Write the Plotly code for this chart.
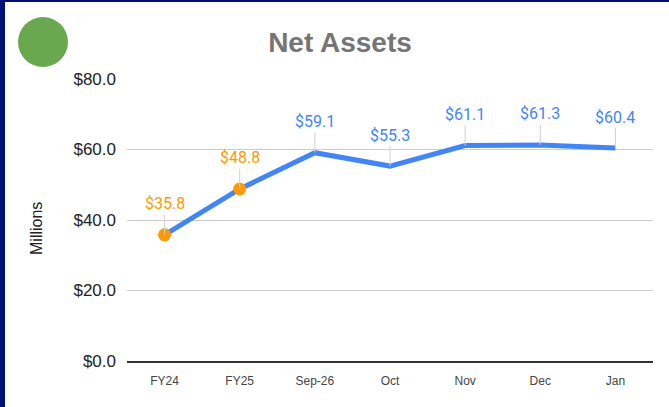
import plotly.graph_objects as go

categories = ["FY24", "FY25", "Sep-26", "Oct", "Nov", "Dec", "Jan"]
values = [35.8, 48.8, 59.1, 55.3, 61.1, 61.3, 60.4]
highlight = [True, True, False, False, False, False, False]
y_ticks = [0, 20, 40, 60, 80]
y_tick_labels = ["$0.0", "$20.0", "$40.0", "$60.0", "$80.0"]

BLUE = "#4285F4"
ORANGE = "#FF9900"
W, H = 669, 407
L, R, T, B = 127, 16, 79, 46
PW, PH = W - L - R, H - T - B

def px_x(p):
    return (p - L) / PW

def px_y(p):
    return (H - B - p) / PH

fig = go.Figure()
fig.add_trace(go.Scatter(
    x=categories, y=values, mode="lines",
    line=dict(color=BLUE, width=5), hoverinfo="skip", showlegend=False,
))
hx = [c for c, h in zip(categories, highlight) if h]
hy = [v for v, h in zip(values, highlight) if h]
fig.add_trace(go.Scatter(
    x=hx, y=hy, mode="markers",
    marker=dict(color=ORANGE, size=13), hoverinfo="skip", showlegend=False,
))

for c, v, h in zip(categories, values, highlight):
    fig.add_annotation(
        x=c, y=v, text=f"${v:.1f}", showarrow=True, arrowhead=0,
        arrowwidth=1, arrowcolor="#d0d0d0", ax=0, ay=-31,
        font=dict(family="Roboto", size=16, color=ORANGE if h else BLUE),
    )

fig.add_annotation(
    x=px_x(36), y=px_y(229), xref="paper", yref="paper", text="Millions",
    xanchor="center", yanchor="middle",
    textangle=-90, showarrow=False,
    font=dict(family="Arial, Liberation Sans", size=16, color="#222222"),
)

# decorative circle and frame
fig.add_shape(type="circle", xref="paper", yref="paper",
              x0=px_x(18), x1=px_x(68), y0=px_y(67), y1=px_y(17),
              fillcolor="#6AA84F", line=dict(width=0))
fig.add_shape(type="rect", xref="paper", yref="paper",
              x0=px_x(-5), x1=px_x(5), y0=px_y(H + 5), y1=px_y(-5),
              fillcolor="#001177", line=dict(width=0))
fig.add_shape(type="rect", xref="paper", yref="paper",
              x0=px_x(-5), x1=px_x(W + 5), y0=px_y(2), y1=px_y(-5),
              fillcolor="#001177", line=dict(width=0))

fig.update_layout(
    width=W, height=H,
    margin=dict(l=L, r=R, t=T, b=B),
    paper_bgcolor="white", plot_bgcolor="white",
    title=dict(text="<b>Net Assets</b>", x=340 / W, xref="container", xanchor="center",
               y=1 - 42 / H, yref="container", yanchor="middle",
               font=dict(family="Arial, Liberation Sans", size=28, color="#757575")),
    xaxis=dict(
        type="category", range=[-0.5, 6.5], showgrid=False,
        showline=True, linecolor="#333333", linewidth=1.5,
        tickfont=dict(family="Arial, Liberation Sans", size=12, color="#444444"),
        ticklabelstandoff=8, zeroline=False,
    ),
    yaxis=dict(
        range=[0, 80], tickvals=y_ticks, ticktext=y_tick_labels,
        showgrid=True, gridcolor="#cccccc", gridwidth=1, zeroline=False,
        tickfont=dict(family="Arial, Liberation Sans", size=17, color="#222222"),
        ticklabelstandoff=10,
    ),
)

fig.write_html("out.html", config={"displayModeBar": False},
               post_script="document.body.style.margin='0';document.body.style.overflow='hidden';")
